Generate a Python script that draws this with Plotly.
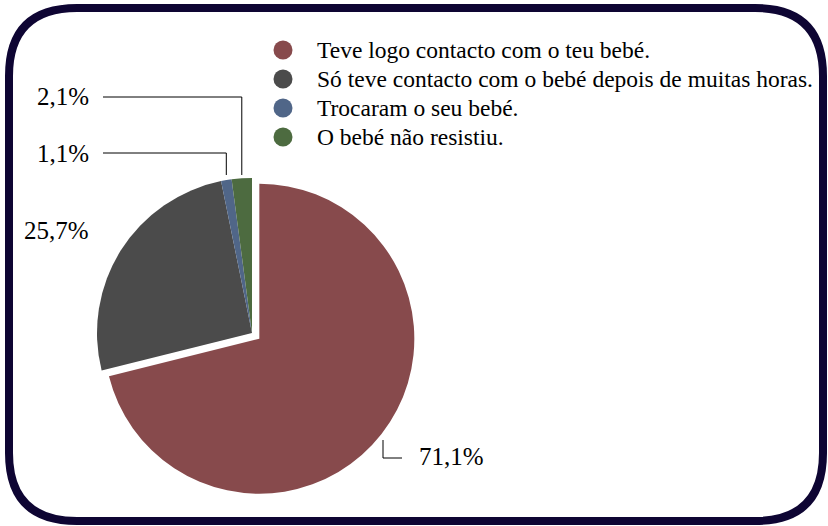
import math
import plotly.graph_objects as go

# ---- data ----
labels = ["Teve logo contacto com o teu bebé.",
          "Só teve contacto com o bebé depois de muitas horas.",
          "Trocaram o seu bebé.",
          "O bebé não resistiu."]
values = [71.1, 25.7, 1.1, 2.1]
colors = ["#874a4c", "#4b4b4b", "#506688", "#4d6b40"]
pulls = [0.06, 0, 0, 0]

W, H = 828, 526
FONT = "Liberation Serif"

def px(x):
    return x / W

def py(y):
    return 1 - y / H

# pie geometry (pixels)
cx, cy, r = 252, 333, 155
half = r * (1 + max(pulls))

fig = go.Figure()
fig.add_trace(go.Pie(
    labels=labels, values=values, sort=False, direction="clockwise",
    rotation=0, pull=pulls, textinfo="none", hoverinfo="label+percent",
    marker=dict(colors=colors, line=dict(width=0)),
    domain=dict(x=[px(cx - half), px(cx + half)], y=[py(cy + half), py(cy - half)]),
    showlegend=False,
))

def fmt(v):
    return f"{v:.1f}".replace(".", ",") + "%"

shapes = []
annotations = []
line_style = dict(color="black", width=1)
LBL = 25

# slice mid-angles (clockwise from 12 o'clock)
total = sum(values)
mids = []
acc = 0
for v in values:
    mids.append((acc + v / 2) / total * 2 * math.pi)
    acc += v

# labels with leader lines for the two small slices
small = {3: 97, 2: 153}
for i, ly in small.items():
    ax = cx + r * math.sin(mids[i])
    shapes.append(dict(type="path", xref="paper", yref="paper", line=line_style,
                       path=f"M {px(103)} {py(ly)} L {px(ax)} {py(ly)} L {px(ax)} {py(175)}"))
    annotations.append(dict(text=fmt(values[i]), x=px(91), y=py(ly), xref="paper", yref="paper",
                            xanchor="right", yanchor="middle", showarrow=False,
                            font=dict(family=FONT, size=LBL, color="black")))

# 25,7 label
annotations.append(dict(text=fmt(values[1]), x=px(91), y=py(230), xref="paper", yref="paper",
                        xanchor="right", yanchor="middle", showarrow=False,
                        font=dict(family=FONT, size=LBL, color="black")))
# 71,1 label
shapes.append(dict(type="path", xref="paper", yref="paper", line=line_style,
                   path=f"M {px(383)} {py(440)} L {px(383)} {py(458)} L {px(402)} {py(458)}"))
annotations.append(dict(text=fmt(values[0]), x=px(417), y=py(456), xref="paper", yref="paper",
                        xanchor="left", yanchor="middle", showarrow=False,
                        font=dict(family=FONT, size=LBL, color="black")))

# custom legend with circular markers
for i, (lab, col) in enumerate(zip(labels, colors)):
    yc = 50 + 29 * i
    shapes.append(dict(type="circle", xref="paper", yref="paper",
                       x0=px(283 - 9.5), x1=px(283 + 9.5), y0=py(yc + 9.5), y1=py(yc - 9.5),
                       fillcolor=col, line=dict(width=0)))
    annotations.append(dict(text=lab, x=px(315), y=py(yc), xref="paper", yref="paper",
                            xanchor="left", yanchor="middle", showarrow=False,
                            font=dict(family=FONT, size=23.5, color="black")))

# rounded frame
L, T, R, B = 9, 8, 823, 521
rad = 68
frame = (f"M {px(L + rad)} {py(T)} L {px(R - rad)} {py(T)} "
         f"Q {px(R)} {py(T)} {px(R)} {py(T + rad)} "
         f"L {px(R)} {py(B - rad)} Q {px(R)} {py(B)} {px(R - rad)} {py(B)} "
         f"L {px(L + rad)} {py(B)} Q {px(L)} {py(B)} {px(L)} {py(B - rad)} "
         f"L {px(L)} {py(T + rad)} Q {px(L)} {py(T)} {px(L + rad)} {py(T)} Z")
shapes.append(dict(type="path", xref="paper", yref="paper", path=frame,
                   line=dict(color="#0e0533", width=8)))

fig.update_layout(
    width=W, height=H, margin=dict(l=0, r=0, t=0, b=0),
    paper_bgcolor="white", plot_bgcolor="white",
    shapes=shapes, annotations=annotations,
    font=dict(family=FONT),
)

fig.write_html("out.html")
